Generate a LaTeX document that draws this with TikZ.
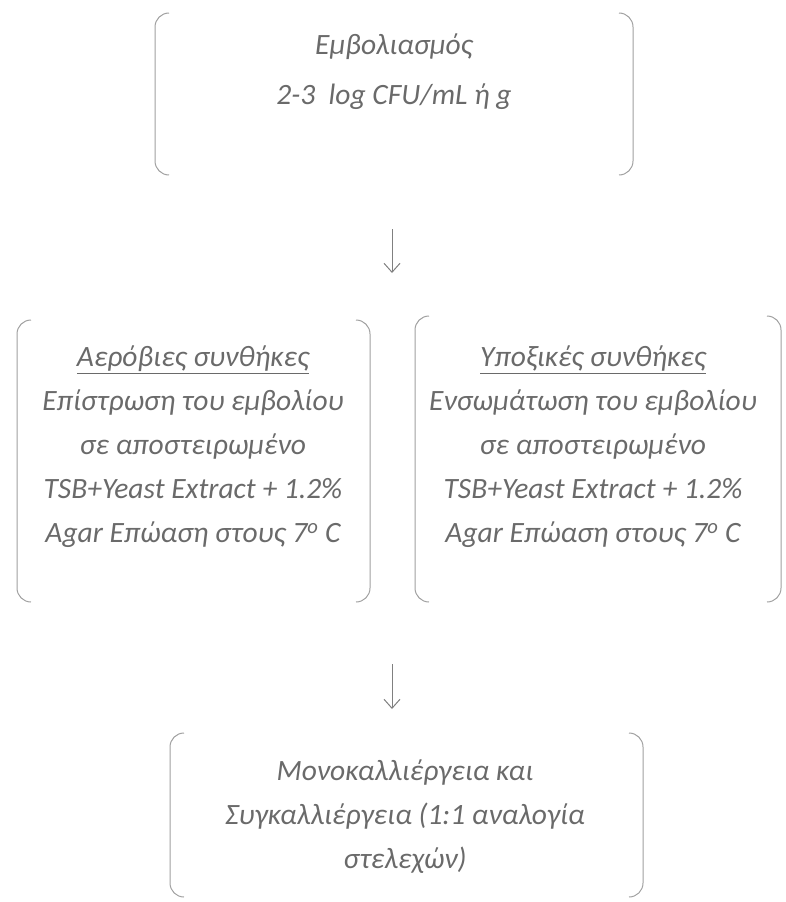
\documentclass[tikz,border=0pt]{standalone}
\usepackage{fontspec}
\setmainfont{Carlito}
\usetikzlibrary{arrows.meta}
\definecolor{txtgray}{HTML}{6A6A6A}
\definecolor{lngray}{HTML}{A0A0A0}
\newcommand\brk[1]{%
  \draw[brk] ([xshift=14pt]#1.north west) -- (#1.north west) -- (#1.south west) -- ([xshift=14pt]#1.south west);
  \draw[brk] ([xshift=-14pt]#1.north east) -- (#1.north east) -- (#1.south east) -- ([xshift=-14pt]#1.south east);}
\begin{document}
\begin{tikzpicture}[x=1pt,y=-1pt,
  box/.style={draw=none,inner sep=0pt,outer sep=0pt},
  brk/.style={draw=lngray,line width=1pt,rounded corners=14pt},
  txt/.style={text=txtgray,align=center,font=\fontsize{29.5}{44}\selectfont\itshape,inner sep=0pt},
  arr/.style={draw=gray,line width=1pt,-{Straight Barb[length=9pt,width=16pt]}}]
\useasboundingbox (0,0) rectangle (785,902);
\node[box,minimum width=478pt,minimum height=162pt] (top) at (394,94) {};
\node[box,minimum width=353pt,minimum height=282pt] (left) at (193.5,461) {};
\node[box,minimum width=366pt,minimum height=286pt] (right) at (598,459) {};
\node[box,minimum width=473pt,minimum height=164pt] (bottom) at (406.5,815) {};
\brk{top}\brk{left}\brk{right}\brk{bottom}
\node[txt] (toptext) at (394,72) {Εμβολιασμός\\[6pt]2-3\ \ log CFU/mL ή g};
\node[txt] (lefttext) at (193,447) {\underline{Αερόβιες συνθήκες}\\Επίστρωση του εμβολίου\\σε αποστειρωμένο\\TSB+Yeast Extract + 1.2\%\\Agar Επώαση στους 7\textsuperscript{ο} C};
\node[txt] (righttext) at (593,447) {\underline{Υποξικές συνθήκες}\\Ενσωμάτωση του εμβολίου\\σε αποστειρωμένο\\TSB+Yeast Extract + 1.2\%\\Agar Επώαση στους 7\textsuperscript{ο} C};
\node[txt] (bottomtext) at (405,817) {Μονοκαλλιέργεια και\\Συγκαλλιέργεια (1:1 αναλογία\\στελεχών)};
\coordinate (a1s) at (392,229);
\coordinate (a1e) at (392,273);
\coordinate (a2s) at (392,664);
\coordinate (a2e) at (392,709);
\draw[arr] (a1s) -- (a1e);
\draw[arr] (a2s) -- (a2e);
\end{tikzpicture}
\end{document}
